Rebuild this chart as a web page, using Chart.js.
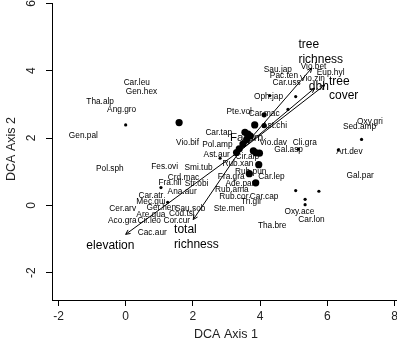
<!DOCTYPE html>
<html><head><meta charset="utf-8">
<script src="https://cdn.jsdelivr.net/npm/chart.js@4"></script>
<style>html,body{margin:0;padding:0;background:#fff}canvas{display:block}</style>
</head><body>
<canvas id="c" width="397" height="342"></canvas>
<script>
// ---- data ----
const xTicks = [-2, 0, 2, 4, 6, 8];
const yTicks = [-2, 0, 2, 4, 6];
const xTitle = 'DCA Axis 1';
const yTitle = 'DCA Axis 2';

const speciesNames = ['Car.leu','Gen.hex','Tha.alp','Ang.gro','Gen.pal','Pol.sph','Vio.bif','Fes.ovi','Smi.tub','Crd.mac','Fra.nil','Str.obi','Ana.aur','Car.atr','Mec.gui','Cer.arv','Ger.hen','Sau.sob','Are.qua','Cod.tsi','Aco.gra','Cir.leo','Cor.cur','Cac.aur','Ste.men','Tha.bre','Oxy.ace','Car.lon','Gal.par','Art.dev','Sed.amp','Oxy.gri','Cli.gra','Gal.asp','Vio.dav','Ast.chi','Car.mac','Pte.vol','Oph.jap','Car.tap','Pol.amp','Ast.aur','Cir.alp','Rub.xan','Rub.pun','Car.lep','Fra.gra','Ade.par','Rub.ama','Rub.cor','Car.cap','Tri.gir','Sau.jap','Vio.bet','Pac.ten','Vio.zin','Eup.hyl','Car.uss'];
const speciesX = [0.33,0.47,-0.76,-0.12,-1.26,-0.47,1.84,1.16,2.17,1.72,1.32,2.11,1.68,0.75,0.75,-0.09,1.06,1.92,0.75,1.67,-0.10,0.70,1.52,0.79,3.08,4.36,5.17,5.53,6.98,6.66,6.96,7.27,5.33,4.85,4.39,4.43,4.12,3.38,4.25,2.77,2.73,2.71,3.62,3.34,3.72,4.34,3.14,3.40,3.16,3.22,4.12,3.74,4.53,5.59,4.71,5.56,6.10,4.79];
const speciesY = [3.65,3.39,3.08,2.84,2.08,1.10,1.87,1.15,1.12,0.83,0.66,0.64,0.40,0.28,0.11,-0.09,-0.06,-0.09,-0.27,-0.25,-0.45,-0.45,-0.45,-0.80,-0.11,-0.59,-0.20,-0.44,0.87,1.58,2.34,2.48,1.87,1.64,1.85,2.37,2.71,2.79,3.22,2.17,1.81,1.51,1.45,1.25,1.01,0.84,0.84,0.65,0.46,0.27,0.25,0.10,4.02,4.11,3.84,3.76,3.94,3.65];

const siteX = [0.00,1.59,3.84,4.12,4.12,4.29,5.06,4.83,3.55,3.64,3.71,3.60,3.49,3.38,3.30,3.80,3.88,3.98,3.96,3.68,3.87,2.81,1.05,1.25,5.06,5.75,5.34,5.34,7.02,6.33,5.14];
const siteY = [2.39,2.46,2.39,2.69,2.37,3.26,3.23,2.85,2.17,2.12,2.06,1.95,1.82,1.68,1.57,1.62,1.56,1.55,1.21,0.94,0.67,1.40,0.53,0.09,0.44,0.42,0.18,0.02,1.96,1.65,1.67];
const siteClass = [1,3,3,2,2,1,1,1,3,3,3,3,3,3,3,3,3,3,3,3,3,1,1,1,1,1,1,1,1,1,1];

const factorName = 'Farom';
const factorX = 3.60, factorY = 2.00;

const envOriginX = 3.40, envOriginY = 1.62;
const envNames = ['elevation', 'total\nrichness', 'tree\nrichness', 'dbh', 'tree\ncover'];
const envX = [0.00, 2.01, 5.54, 5.62, 5.92];
const envY = [-0.86, -0.42, 4.08, 3.48, 3.57];
const envLabelX = [-1.17, 1.44, 5.14, 5.45, 6.05];
const envLabelY = [-1.20, -0.73, 4.77, 3.53, 3.68];

// ---- chart ----
const FONT = "'Liberation Sans', Arial, sans-serif";
const radiusFor = c => c === 3 ? 3.6 : (c === 2 ? 2.6 : 1.6);

const datasets = [{
  label: 'sites',
  data: siteX.map((x, i) => ({x, y: siteY[i]})),
  pointRadius: siteClass.map(radiusFor),
  pointBackgroundColor: '#000',
  pointBorderWidth: 0,
  showLine: false
}];
envNames.forEach((n, i) => {
  datasets.push({
    label: n,
    data: [{x: envOriginX, y: envOriginY}, {x: envX[i], y: envY[i]}],
    showLine: true,
    borderColor: '#000',
    borderWidth: 1,
    pointRadius: 0
  });
});

const overlay = {
  id: 'overlay',
  afterDatasetsDraw(chart) {
    const ctx = chart.ctx, xs = chart.scales.x, ys = chart.scales.y;
    const px = v => xs.getPixelForValue(v), py = v => ys.getPixelForValue(v);
    ctx.save();
    // arrowheads
    ctx.strokeStyle = '#000'; ctx.lineWidth = 1;
    envNames.forEach((n, i) => {
      const x0 = px(envOriginX), y0 = py(envOriginY), x1 = px(envX[i]), y1 = py(envY[i]);
      const a = Math.atan2(y1 - y0, x1 - x0), L = 5, w = 0.45;
      ctx.beginPath();
      ctx.moveTo(x1 - L * Math.cos(a - w), y1 - L * Math.sin(a - w));
      ctx.lineTo(x1, y1);
      ctx.lineTo(x1 - L * Math.cos(a + w), y1 - L * Math.sin(a + w));
      ctx.stroke();
    });
    // species labels
    ctx.fillStyle = '#000';
    ctx.font = '8.3px ' + FONT;
    ctx.textAlign = 'center'; ctx.textBaseline = 'middle';
    speciesNames.forEach((n, i) => ctx.fillText(n, px(speciesX[i]), py(speciesY[i])));
    // factor label
    ctx.font = '11.5px ' + FONT;
    ctx.fillText(factorName, px(factorX), py(factorY));
    // env labels
    ctx.font = '12px ' + FONT;
    ctx.textAlign = 'left';
    envNames.forEach((n, i) => {
      n.split('\n').forEach((line, k) => ctx.fillText(line, px(envLabelX[i]), py(envLabelY[i]) + k * 14.5));
    });
    // tick labels
    ctx.fillStyle = '#222';
    ctx.font = '12px ' + FONT;
    ctx.textAlign = 'center'; ctx.textBaseline = 'middle';
    xTicks.forEach(v => ctx.fillText(String(v), px(v), 317));
    yTicks.forEach(v => {
      ctx.save(); ctx.translate(32, py(v)); ctx.rotate(-Math.PI / 2);
      ctx.fillText(String(v), 0, 0); ctx.restore();
    });
    // axis titles
    ctx.font = '12.5px ' + FONT;
    ctx.fillText(xTitle, 226, 335);
    ctx.save(); ctx.translate(12, 149); ctx.rotate(-Math.PI / 2);
    ctx.fillText(yTitle, 0, 0); ctx.restore();
    ctx.restore();
  }
};

new Chart(document.getElementById('c'), {
  type: 'scatter',
  data: {datasets},
  options: {
    responsive: false,
    animation: false,
    devicePixelRatio: 1,
    layout: {autoPadding: false, padding: {top: 3, left: 0, right: 0, bottom: 0}},
    plugins: {legend: {display: false}, tooltip: {enabled: false}},
    scales: {
      x: {
        type: 'linear', min: -2.193, max: 8.075,
        afterBuildTicks: s => { s.ticks = xTicks.map(v => ({value: v})); },
        afterFit: s => { s.height = 42; },
        grid: {drawOnChartArea: false, drawTicks: true, tickLength: 6, color: '#000', tickColor: '#000'},
        border: {display: true, color: '#000', width: 1},
        ticks: {display: false}
      },
      y: {
        type: 'linear', min: -2.81, max: 6.01,
        afterBuildTicks: s => { s.ticks = yTicks.map(v => ({value: v})); },
        afterFit: s => { s.width = 52; },
        grid: {drawOnChartArea: false, drawTicks: true, tickLength: 6, color: '#000', tickColor: '#000'},
        border: {display: true, color: '#000', width: 1},
        ticks: {display: false}
      }
    }
  },
  plugins: [overlay]
});
</script>
</body></html>
